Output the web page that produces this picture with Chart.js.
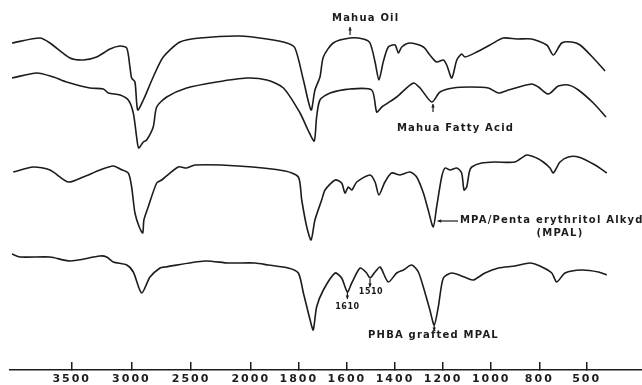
<!DOCTYPE html>
<html>
<head>
<meta charset="utf-8">
<title>IR spectra - Mahua oil / MPAL</title>
<script src="https://cdn.jsdelivr.net/npm/chart.js@4.4.1/dist/chart.umd.min.js"></script>
<style>
  html, body { margin: 0; padding: 0; background: #fff; }
  #wrap { width: 642px; height: 385px; position: relative; }
</style>
</head>
<body>
<div id="wrap"><canvas id="irChart"></canvas></div>
<script>
// ---- wavenumber ticks (cm-1) ----
const tickLabels = [3500, 3000, 2500, 2000, 1800, 1600, 1400, 1200, 1000, 800, 500];

// ---- spectra: wavenumber + offset transmittance (arbitrary units) ----
const oilWn = [4000, 3766, 3682, 3514, 3403, 3291, 3179, 3095, 3039, 3012, 2998, 2970, 2947, 2900, 2817, 2733, 2593, 2425, 2090, 1933, 1850, 1816, 1781, 1749, 1733, 1712, 1698, 1657, 1587, 1532, 1504, 1483, 1467, 1449, 1428, 1400, 1386, 1372, 1338, 1282, 1255, 1227, 1199, 1185, 1164, 1143, 1123, 1109, 1060, 1005, 950, 894, 832, 753, 711, 658, 595, 542, 458, 384];
const oilT = [327, 332, 327, 312, 310, 313, 321, 324, 322, 303, 292, 288, 260, 270, 293, 313, 328, 332, 334, 331, 327, 322, 290, 260, 280, 293, 313, 327, 332, 331, 327, 308, 290, 308, 323, 325, 317, 323, 327, 323, 315, 308, 310, 305, 292, 310, 316, 313, 318, 325, 332, 331, 331, 325, 315, 327, 328, 325, 312, 299];

const fattyWn = [4000, 3793, 3654, 3542, 3347, 3235, 3193, 3095, 3026, 2984, 2956, 2939, 2900, 2872, 2817, 2788, 2704, 2537, 2286, 2034, 1933, 1864, 1795, 1762, 1736, 1726, 1712, 1670, 1587, 1497, 1476, 1455, 1393, 1324, 1296, 1247, 1213, 1158, 1088, 1012, 970, 929, 832, 804, 743, 680, 616, 553, 458, 378];
const fattyT = [292, 297, 293, 288, 282, 281, 277, 275, 270, 257, 233, 222, 228, 230, 243, 263, 273, 282, 288, 292, 290, 282, 257, 240, 229, 253, 270, 277, 281, 280, 258, 263, 273, 287, 282, 268, 278, 282, 283, 282, 277, 280, 286, 283, 276, 284, 285, 280, 267, 253];

const mpalWn = [3990, 3822, 3682, 3528, 3403, 3263, 3152, 3095, 3026, 2998, 2970, 2934, 2905, 2895, 2859, 2788, 2746, 2607, 2537, 2467, 2105, 1857, 1802, 1788, 1767, 1749, 1733, 1705, 1691, 1649, 1622, 1608, 1594, 1580, 1559, 1504, 1483, 1467, 1442, 1414, 1379, 1338, 1310, 1282, 1262, 1241, 1227, 1206, 1192, 1171, 1143, 1123, 1113, 1102, 1091, 1081, 1040, 984, 901, 852, 811, 775, 732, 711, 669, 616, 553, 447, 373];
const mpalT = [198, 203, 200, 188, 193, 200, 204, 201, 197, 183, 157, 143, 137, 150, 163, 187, 190, 203, 202, 205, 204, 199, 193, 170, 143, 130, 150, 170, 180, 190, 187, 177, 183, 180, 188, 195, 188, 175, 188, 197, 195, 198, 193, 177, 160, 143, 163, 193, 202, 200, 202, 197, 180, 183, 198, 203, 207, 208, 208, 215, 212, 208, 202, 197, 208, 213, 213, 205, 197];

const phbaWn = [4000, 3933, 3682, 3514, 3263, 3207, 3152, 3039, 2984, 2914, 2844, 2760, 2719, 2384, 2188, 1982, 1927, 1844, 1802, 1781, 1753, 1740, 1726, 1698, 1649, 1622, 1598, 1580, 1545, 1518, 1504, 1483, 1462, 1428, 1393, 1365, 1331, 1303, 1275, 1255, 1237, 1220, 1199, 1164, 1102, 1074, 1026, 970, 901, 839, 796, 721, 690, 637, 532, 426, 373];
const phbaT = [116, 113, 113, 109, 114, 113, 108, 105, 98, 77, 93, 102, 103, 109, 107, 107, 105, 102, 97, 77, 50, 40, 63, 80, 97, 92, 78, 87, 102, 97, 92, 98, 103, 88, 97, 100, 105, 98, 77, 60, 45, 63, 92, 97, 92, 90, 97, 102, 104, 107, 104, 97, 88, 97, 100, 98, 95];

const seriesNames = ['Mahua Oil', 'Mahua Fatty Acid', 'MPA/Penta erythritol Alkyd (MPAL)', 'PHBA grafted MPAL'];

// labels + arrows written on the plot (wavenumber, transmittance units)
const notes = [
    { text: 'Mahua Oil', wn: 1662, t: 352, align: 'left' },
    { text: 'Mahua Fatty Acid', wn: 1392, t: 242, align: 'left' },
    { text: 'MPA/Penta erythritol Alkyd', wn: 1130, t: 150, align: 'left' },
    { text: '(MPAL)', wn: 669, t: 137, align: 'center' },
    { text: '1610', wn: 1598, t: 63, align: 'center', small: true },
    { text: '1510', wn: 1500, t: 78, align: 'center', small: true },
    { text: 'PHBA grafted MPAL', wn: 1512, t: 35, align: 'left' }
];
const arrows = [
    { from: [1587, 335], to: [1587, 343] },
    { from: [1242, 258], to: [1242, 266] },
    { from: [1138, 149], to: [1223, 149] },
    { from: [1598, 78], to: [1598, 71] },
    { from: [1504, 91], to: [1504, 83] },
    { from: [1237, 45], to: [1237, 39] }
];

// the paper's axis is not linear: expanded below 2000, squeezed below 800
const axisAnchors = [[4017, 0], [2000, 0.3809], [800, 0.8375], [500, 0.9125], [150, 1]];

function wnToDecimal(v) {
    let i = 0;
    while (i < axisAnchors.length - 2 && v < axisAnchors[i + 1][0]) i++;
    const [w0, d0] = axisAnchors[i];
    const [w1, d1] = axisAnchors[i + 1];
    return d0 + (v - w0) * (d1 - d0) / (w1 - w0);
}
function decimalToWn(d) {
    let i = 0;
    while (i < axisAnchors.length - 2 && d > axisAnchors[i + 1][1]) i++;
    const [w0, d0] = axisAnchors[i];
    const [w1, d1] = axisAnchors[i + 1];
    return w0 + (d - d0) * (w1 - w0) / (d1 - d0);
}

class WavenumberScale extends Chart.LinearScale {
    getPixelForValue(value) {
        return this.getPixelForDecimal(wnToDecimal(value));
    }
    getValueForPixel(pixel) {
        return decimalToWn(this.getDecimalForPixel(pixel));
    }
}
WavenumberScale.id = 'wavenumber';
WavenumberScale.defaults = Chart.LinearScale.defaults;
Chart.register(WavenumberScale);

function toPoints(wn, t) {
    return wn.map((w, i) => ({ x: w, y: t[i] }));
}

const INK = '#1c1c1c';

// draws the hand lettering and arrows
const notesPlugin = {
    id: 'notes',
    afterDatasetsDraw(chart) {
        const ctx = chart.ctx;
        const xs = chart.scales.x;
        const ys = chart.scales.y;
        ctx.save();
        ctx.fillStyle = INK;
        ctx.strokeStyle = INK;
        ctx.textBaseline = 'middle';

        notes.forEach(n => {
            ctx.font = n.small ? 'bold 8px "DejaVu Sans"' : 'bold 10px "DejaVu Sans"';
            ctx.letterSpacing = n.small ? '0.5px' : '1.2px';
            ctx.textAlign = n.align;
            ctx.fillText(n.text, xs.getPixelForValue(n.wn), ys.getPixelForValue(n.t));
        });

        ctx.lineWidth = 1.2;
        arrows.forEach(a => {
            const x1 = xs.getPixelForValue(a.from[0]), y1 = ys.getPixelForValue(a.from[1]);
            const x2 = xs.getPixelForValue(a.to[0]), y2 = ys.getPixelForValue(a.to[1]);
            ctx.beginPath();
            ctx.moveTo(x1, y1);
            ctx.lineTo(x2, y2);
            ctx.stroke();
            const ang = Math.atan2(y2 - y1, x2 - x1);
            ctx.beginPath();
            ctx.moveTo(x2, y2);
            ctx.lineTo(x2 - 4 * Math.cos(ang - 0.45), y2 - 4 * Math.sin(ang - 0.45));
            ctx.lineTo(x2 - 4 * Math.cos(ang + 0.45), y2 - 4 * Math.sin(ang + 0.45));
            ctx.closePath();
            ctx.fill();
        });
        ctx.restore();
    }
};

// wide lettering on the axis labels
const spacingPlugin = {
    id: 'spacing',
    beforeDraw(chart) {
        chart.ctx.letterSpacing = '2px';
    }
};

const lineStyle = {
    borderColor: INK,
    borderWidth: 1.6,
    pointRadius: 0,
    tension: 0.25,
    fill: false
};

new Chart(document.getElementById('irChart'), {
    type: 'line',
    data: {
        datasets: [
            { label: seriesNames[0], data: toPoints(oilWn, oilT), ...lineStyle },
            { label: seriesNames[1], data: toPoints(fattyWn, fattyT), ...lineStyle },
            { label: seriesNames[2], data: toPoints(mpalWn, mpalT), ...lineStyle },
            { label: seriesNames[3], data: toPoints(phbaWn, phbaT), ...lineStyle }
        ]
    },
    options: {
        responsive: true,
        maintainAspectRatio: false,
        animation: false,
        layout: { padding: { left: 10, right: 0, top: 0, bottom: 0 } },
        plugins: {
            legend: { display: false },
            tooltip: { enabled: false }
        },
        scales: {
            x: {
                type: 'wavenumber',
                position: 'bottom',
                min: 150,
                max: 4017,
                afterBuildTicks: axis => {
                    axis.ticks = tickLabels.map(v => ({ value: v }));
                },
                afterFit: axis => {
                    axis.height = 15;
                },
                border: { display: true, color: INK, width: 1.5 },
                grid: {
                    drawOnChartArea: false,
                    drawTicks: true,
                    tickLength: -8,
                    color: INK,
                    lineWidth: 1.5
                },
                ticks: {
                    autoSkip: false,
                    maxRotation: 0,
                    padding: 11,
                    color: INK,
                    font: { family: 'DejaVu Sans', size: 11, weight: 'bold' },
                    callback: v => String(v)
                }
            },
            y: {
                display: false,
                min: 0,
                max: 370
            }
        }
    },
    plugins: [spacingPlugin, notesPlugin]
});
</script>
</body>
</html>
